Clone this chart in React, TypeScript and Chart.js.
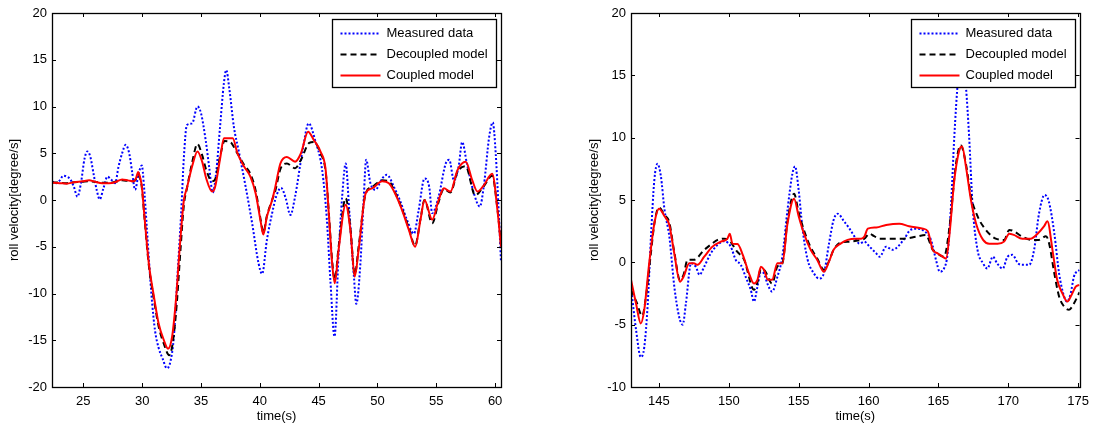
import React, { useEffect, useRef } from "react";
import { Chart, registerables } from "chart.js";

Chart.register(...registerables);

const FONT = "'Liberation Sans', Arial, Helvetica, sans-serif";

const seriesLabels = ["Measured data", "Decoupled model", "Coupled model"];
const xTitle = "time(s)";
const yTitle = "roll velocity[degree/s]";

// ---------- left panel ----------
const leftMeasuredT = [22.34, 22.7, 23.0, 23.3, 23.6, 23.9, 24.2, 24.5, 24.8, 25.1, 25.35, 25.6, 25.9, 26.15, 26.4, 26.7, 27.05, 27.35, 27.7, 28.0, 28.3, 28.6, 28.9, 29.15, 29.4, 29.7, 29.97, 30.15, 30.4, 30.6, 30.85, 31.1, 31.4, 31.75, 32.1, 32.4, 32.7, 33.0, 33.3, 33.55, 33.8, 34.25, 34.7, 35.0, 35.4, 35.7, 36.0, 36.3, 36.6, 36.95, 37.15, 37.4, 37.8, 38.2, 38.8, 39.35, 39.9, 40.2, 40.6, 41.05, 41.4, 41.8, 42.2, 42.6, 43.0, 43.6, 44.16, 44.7, 45.3, 45.7, 46.0, 46.35, 46.7, 47.0, 47.3, 47.6, 48.0, 48.2, 48.55, 48.84, 49.04, 49.4, 49.83, 50.4, 50.8, 51.4, 51.96, 52.5, 53.1, 53.5, 54.0, 54.4, 54.65, 55.2, 55.8, 56.1, 56.5, 56.9, 57.2, 57.6, 58.2, 58.7, 59.05, 59.5, 59.8, 60.05, 60.3, 60.5];
const leftMeasuredV = [2.0, 1.8, 2.1, 2.6, 2.5, 2.2, 1.4, 0.35, 1.8, 4.4, 5.2, 4.6, 2.6, 1.0, 0.07, 1.2, 2.5, 2.2, 1.8, 3.6, 5.0, 5.9, 5.0, 3.0, 1.1, 2.8, 3.7, 1.6, -3.0, -6.8, -11.0, -14.0, -15.8, -17.0, -18.0, -17.3, -14.6, -8.2, -1.8, 4.6, 8.0, 8.2, 10.0, 9.3, 6.4, 3.5, 0.8, 3.0, 7.5, 12.5, 13.9, 12.0, 7.8, 5.3, 1.4, -2.5, -6.8, -7.9, -4.3, -1.4, 0.4, 1.3, 0.2, -1.6, 0.36, 5.0, 8.2, 6.4, 3.2, -2.1, -8.6, -14.6, -5.7, 0.36, 3.9, -1.1, -8.2, -11.1, -6.8, 0.36, 4.3, 1.8, 1.1, 2.3, 2.7, 1.4, -0.2, -2.1, -3.6, -1.1, 2.3, 1.4, -1.4, 0.36, 3.9, 4.3, 2.1, 3.6, 6.2, 3.9, 0.7, -0.7, 1.6, 6.8, 8.3, 5.0, -1.1, -6.6];

const leftDecoupledT = [22.34, 23.0, 23.6, 24.2, 24.9, 25.5, 26.0, 26.6, 27.2, 27.7, 28.3, 28.8, 29.3, 29.5, 29.66, 29.85, 29.97, 30.2, 30.57, 31.0, 31.4, 31.85, 32.3, 32.6, 32.95, 33.25, 33.55, 33.8, 34.25, 34.7, 35.1, 35.45, 35.95, 36.2, 36.65, 37.0, 37.5, 38.0, 38.65, 39.2, 39.65, 40.1, 40.3, 40.6, 41.05, 41.32, 41.75, 42.3, 43.0, 43.5, 44.2, 44.6, 45.15, 45.6, 45.9, 46.15, 46.37, 46.7, 47.3, 47.7, 48.07, 48.4, 49.0, 49.55, 50.4, 50.97, 51.5, 52.1, 52.67, 53.2, 53.66, 54.0, 54.65, 55.2, 55.65, 56.2, 56.8, 57.5, 58.3, 59.05, 59.75, 60.2, 60.5];
const leftDecoupledV = [1.9, 1.85, 1.8, 1.9, 1.95, 2.0, 1.95, 1.85, 1.85, 1.95, 2.1, 2.05, 2.0, 2.3, 2.7, 2.2, 1.4, -1.9, -7.0, -10.6, -13.5, -15.4, -16.6, -15.3, -11.0, -5.5, -0.5, 1.2, 4.0, 6.0, 4.8, 3.2, 2.0, 2.2, 4.8, 6.3, 6.2, 5.2, 3.8, 2.8, 1.0, -2.3, -3.5, -1.7, 0.0, 1.0, 3.3, 3.9, 3.4, 4.3, 6.1, 6.2, 5.0, 3.0, -2.0, -6.5, -8.5, -5.0, 0.2, -3.0, -8.0, -5.0, 0.7, 1.4, 2.1, 2.0, 0.8, -1.0, -3.0, -4.9, -2.0, 0.0, -2.5, -0.2, 1.2, 0.8, 3.0, 3.6, 0.5, 1.5, 2.6, -1.0, -4.8];

const leftCoupledT = [22.34, 23.0, 23.6, 24.2, 24.9, 25.5, 26.0, 26.6, 27.2, 27.7, 28.3, 28.8, 29.3, 29.5, 29.66, 29.85, 29.97, 30.2, 30.57, 31.0, 31.4, 31.85, 32.2, 32.55, 32.9, 33.2, 33.55, 33.8, 34.25, 34.7, 35.1, 35.45, 35.95, 36.2, 36.65, 36.95, 37.7, 38.1, 38.65, 39.2, 39.65, 40.1, 40.3, 40.6, 41.05, 41.32, 41.75, 42.3, 43.0, 43.5, 44.1, 44.6, 45.15, 45.6, 45.9, 46.15, 46.37, 46.7, 47.3, 47.7, 48.07, 48.4, 49.0, 49.55, 50.4, 50.97, 51.5, 52.1, 52.67, 53.2, 53.66, 54.0, 54.65, 55.2, 55.65, 56.2, 56.8, 57.5, 58.06, 58.5, 59.05, 59.75, 60.2, 60.5];
const leftCoupledV = [1.85, 1.8, 1.75, 1.9, 2.0, 2.1, 1.95, 1.8, 1.8, 1.9, 2.2, 2.1, 2.0, 2.4, 3.0, 2.3, 1.5, -1.8, -6.8, -10.3, -13.2, -15.0, -15.9, -14.6, -10.3, -5.0, 0.0, 1.25, 3.6, 5.2, 4.1, 2.3, 0.9, 1.4, 4.6, 6.6, 6.6, 5.0, 3.6, 2.5, 0.7, -2.5, -3.7, -1.8, 0.0, 1.4, 3.9, 4.6, 4.1, 5.0, 7.3, 6.4, 5.2, 3.2, -2.1, -6.8, -8.9, -5.3, -0.5, -3.2, -8.2, -5.3, 0.7, 1.25, 2.0, 1.8, 0.7, -1.1, -3.2, -5.0, -2.1, 0.0, -2.1, 0.0, 1.25, 0.9, 3.2, 4.1, 2.1, 0.9, 1.6, 2.8, -1.1, -5.0];

const leftXMin = 22.34;
const leftXMax = 60.5;
const leftXTicks = [25, 30, 35, 40, 45, 50, 55, 60];
const leftYTicks = [-20, -15, -10, -5, 0, 5, 10, 15, 20];

// ---------- right panel ----------
const rightMeasuredT = [143.0, 143.36, 143.7, 143.95, 144.2, 144.43, 144.67, 144.9, 145.14, 145.4, 145.74, 146.1, 146.45, 146.7, 146.93, 147.3, 147.64, 147.9, 148.24, 148.7, 149.2, 149.67, 150.14, 150.5, 150.86, 151.2, 151.57, 151.8, 152.05, 152.3, 152.52, 152.76, 153.1, 153.48, 153.83, 154.2, 154.55, 154.74, 155.0, 155.26, 155.62, 156.1, 156.45, 156.8, 157.17, 157.5, 157.8, 158.24, 158.64, 159.0, 159.35, 159.7, 160.07, 160.55, 160.8, 161.26, 161.7, 162.1, 162.57, 163.0, 163.5, 164.0, 164.47, 164.83, 165.1, 165.4, 165.66, 165.9, 166.14, 166.4, 166.68, 166.97, 167.2, 167.45, 167.8, 168.2, 168.5, 168.9, 169.2, 169.6, 169.95, 170.3, 170.7, 171.0, 171.5, 171.85, 172.2, 172.6, 172.9, 173.3, 173.64, 174.0, 174.2, 174.47, 174.7, 175.1];
const rightMeasuredV = [-2.0, -5.4, -7.6, -6.8, -3.3, 2.1, 6.6, 7.9, 6.9, 4.2, 2.1, -1.95, -4.4, -5.0, -3.3, -0.08, -0.35, -1.0, -0.35, 0.7, 1.4, 1.7, 1.26, 0.19, -0.2, -1.15, -2.2, -3.15, -1.95, -0.75, -0.9, -1.7, -2.35, -1.15, 0.45, 4.2, 7.1, 7.7, 5.8, 2.86, 0.3, -0.9, -1.3, -0.9, 1.5, 3.4, 3.9, 3.3, 2.7, 2.06, 1.5, 1.66, 1.26, 0.72, 0.45, 1.26, 1.0, 1.26, 1.9, 2.6, 2.7, 2.5, 1.8, 0.19, -0.75, -0.5, 0.72, 4.5, 10.1, 14.6, 17.0, 14.1, 10.1, 4.5, 1.0, -0.08, -0.5, 0.45, -0.08, -0.5, 0.45, 0.6, -0.08, -0.2, -0.2, 1.0, 3.9, 5.4, 4.9, 2.3, -0.9, -2.75, -3.15, -2.5, -1.15, -0.6];

const rightDecoupledT = [143.0, 143.4, 143.8, 144.1, 144.4, 144.7, 145.0, 145.4, 145.74, 146.1, 146.5, 146.76, 147.05, 147.5, 148.24, 148.8, 149.2, 149.67, 150.0, 150.6, 151.1, 151.8, 152.05, 152.3, 152.6, 153.1, 153.5, 153.83, 154.2, 154.67, 155.0, 155.4, 155.86, 156.33, 156.8, 157.17, 157.5, 158.0, 158.64, 159.47, 159.7, 160.07, 160.4, 160.8, 161.7, 162.5, 163.4, 164.1, 164.6, 165.07, 165.4, 165.8, 166.26, 166.6, 166.97, 167.33, 167.8, 168.4, 169.1, 169.7, 170.07, 170.4, 171.0, 171.7, 172.2, 172.7, 172.93, 173.3, 173.64, 174.0, 174.35, 174.7, 175.1];
const rightDecoupledV = [-2.2, -3.2, -4.3, -2.5, 0.5, 3.3, 4.4, 3.8, 3.2, 0.8, -1.4, -1.0, 0.2, 0.2, 1.0, 1.5, 1.8, 1.9, 1.8, 0.85, 0.2, -2.2, -1.6, -0.5, -0.7, -1.7, -0.3, -0.1, 3.3, 5.5, 4.0, 2.5, 1.2, 0.3, -0.6, 0.1, 1.0, 1.6, 1.66, 1.8, 1.9, 2.3, 2.1, 1.9, 1.9, 1.9, 2.06, 2.2, 1.0, 0.6, 0.45, 2.86, 7.9, 9.4, 7.9, 5.3, 3.7, 2.6, 1.9, 1.8, 2.6, 2.5, 2.06, 1.8, 1.8, 2.1, 1.5, -0.9, -2.75, -3.55, -3.8, -3.3, -2.4];

const rightCoupledT = [143.0, 143.36, 143.7, 143.95, 144.3, 144.67, 145.0, 145.4, 145.74, 146.1, 146.5, 146.76, 147.17, 147.5, 147.76, 148.24, 148.83, 149.43, 149.9, 150.07, 150.26, 150.62, 151.0, 151.45, 151.8, 152.05, 152.3, 152.52, 152.8, 153.1, 153.48, 153.83, 154.2, 154.67, 155.0, 155.38, 155.86, 156.33, 156.8, 157.17, 157.5, 158.0, 158.5, 159.07, 159.47, 159.7, 159.95, 160.55, 161.26, 162.2, 162.9, 163.9, 164.24, 164.6, 164.95, 165.3, 165.55, 165.8, 166.14, 166.5, 166.7, 166.97, 167.33, 167.7, 168.2, 168.64, 169.24, 169.7, 170.07, 170.4, 171.0, 171.6, 172.1, 172.57, 172.8, 173.2, 173.5, 173.88, 174.24, 174.47, 174.83, 175.1];
const rightCoupledV = [-1.4, -3.3, -4.9, -3.8, -0.1, 3.1, 4.3, 3.7, 3.0, 0.7, -1.55, -1.15, -0.08, -0.08, -0.2, 0.45, 1.26, 1.66, 1.9, 2.3, 1.5, 1.47, 0.6, -0.9, -1.7, -1.4, -0.35, -0.6, -1.4, -1.4, -0.08, -0.08, 3.1, 5.1, 3.7, 2.3, 1.0, 0.19, -0.75, 0.05, 1.0, 1.5, 1.8, 1.9, 1.9, 2.06, 2.7, 2.8, 3.0, 3.1, 2.9, 2.7, 2.5, 1.0, 0.72, 0.45, 0.3, 2.3, 6.6, 9.0, 9.3, 7.7, 5.0, 3.1, 1.8, 1.5, 1.5, 1.66, 2.3, 2.2, 1.9, 1.9, 2.3, 2.9, 3.3, 0.72, -1.4, -2.5, -3.15, -2.75, -1.95, -1.8];

const rightXMin = 143;
const rightXMax = 175.1;
const rightXTicks = [145, 150, 155, 160, 165, 170, 175];
const rightYTicks = [-10, -5, 0, 5, 10, 15, 20];

const zip = (t: number[], v: number[]) => t.map((x, i) => ({ x, y: v[i] }));

const framePlugin = {
  id: "matlabFrame",
  afterDatasetsDraw(chart: any) {
    const { ctx, chartArea: a, scales } = chart;
    ctx.save();
    ctx.setLineDash([]);
    ctx.strokeStyle = "#000";
    ctx.lineWidth = 1;
    const L = 4;
    ctx.beginPath();
    for (const t of scales.x.ticks) {
      const px = Math.round(scales.x.getPixelForValue(t.value)) + 0.5;
      ctx.moveTo(px, a.bottom);
      ctx.lineTo(px, a.bottom - L);
      ctx.moveTo(px, a.top);
      ctx.lineTo(px, a.top + L);
    }
    for (const t of scales.y.ticks) {
      const py = Math.round(scales.y.getPixelForValue(t.value)) + 0.5;
      ctx.moveTo(a.left, py);
      ctx.lineTo(a.left + L, py);
      ctx.moveTo(a.right, py);
      ctx.lineTo(a.right - L, py);
    }
    ctx.stroke();
    ctx.lineWidth = 1.3;
    ctx.strokeRect(Math.round(a.left) + 0.5, Math.round(a.top) + 0.5, Math.round(a.right) - Math.round(a.left), Math.round(a.bottom) - Math.round(a.top));

    // legend box
    const w = 164;
    const h = 68;
    const bx = Math.round(a.right - 5 - w) + 0.5;
    const by = Math.round(a.top + 6) + 0.5;
    ctx.fillStyle = "#fff";
    ctx.fillRect(bx, by, w, h);
    ctx.lineWidth = 1.3;
    ctx.strokeRect(bx, by, w, h);
    ctx.font = "13px " + FONT;
    ctx.textBaseline = "middle";
    ctx.textAlign = "left";
    chart.data.datasets.forEach((ds: any, i: number) => {
      const yy = by + 14 + i * 21;
      ctx.beginPath();
      ctx.strokeStyle = ds.borderColor;
      ctx.lineWidth = ds.borderWidth;
      ctx.setLineDash(ds.borderDash || []);
      ctx.moveTo(bx + 8, yy);
      ctx.lineTo(bx + 48, yy);
      ctx.stroke();
      ctx.setLineDash([]);
      ctx.fillStyle = "#000";
      ctx.fillText(ds.label, bx + 54, yy);
    });
    ctx.restore();
  },
};

type Panel = {
  mT: number[]; mV: number[];
  dT: number[]; dV: number[];
  cT: number[]; cV: number[];
  xMin: number; xMax: number; xTicks: number[];
  yTicks: number[];
  yAxisWidth: number; padRight: number; yTitlePad: number;
};

function makeConfig(p: Panel): any {
  const font = { family: FONT, size: 13 };
  return {
    type: "line",
    data: {
      datasets: [
        { label: seriesLabels[0], data: zip(p.mT, p.mV), borderColor: "#0000ff", borderWidth: 2, borderDash: [2, 2], pointRadius: 0, fill: false, cubicInterpolationMode: "monotone", order: 2 },
        { label: seriesLabels[1], data: zip(p.dT, p.dV), borderColor: "#000000", borderWidth: 2, borderDash: [6, 4], pointRadius: 0, fill: false, cubicInterpolationMode: "monotone", order: 1 },
        { label: seriesLabels[2], data: zip(p.cT, p.cV), borderColor: "#ff0000", borderWidth: 2, pointRadius: 0, fill: false, cubicInterpolationMode: "monotone", order: 0 },
      ],
    },
    options: {
      animation: false,
      responsive: true,
      maintainAspectRatio: false,
      layout: { padding: { top: 13, right: p.padRight, left: 0, bottom: 0 } },
      plugins: { legend: { display: false }, tooltip: { enabled: false } },
      scales: {
        x: {
          type: "linear",
          min: p.xMin,
          max: p.xMax,
          afterBuildTicks: (s: any) => { s.ticks = p.xTicks.map((v) => ({ value: v })); },
          afterFit: (s: any) => { s.height = 43; },
          grid: { display: false, drawTicks: false },
          border: { display: false },
          ticks: { color: "#000", font, padding: 7, maxRotation: 0, autoSkip: false },
          title: { display: true, text: xTitle, color: "#000", font, padding: { top: 0, bottom: 6 } },
        },
        y: {
          type: "linear",
          min: p.yTicks[0],
          max: p.yTicks[p.yTicks.length - 1],
          afterBuildTicks: (s: any) => { s.ticks = p.yTicks.map((v) => ({ value: v })); },
          afterFit: (s: any) => { s.width = p.yAxisWidth; },
          grid: { display: false, drawTicks: false },
          border: { display: false },
          ticks: { color: "#000", font, padding: 5, autoSkip: false },
          title: { display: true, text: yTitle, color: "#000", font, padding: { top: p.yTitlePad, bottom: 0 } },
        },
      },
    },
    plugins: [framePlugin],
  };
}

function ChartPanel({ panel, left }: { panel: Panel; left: number }) {
  const ref = useRef<HTMLCanvasElement | null>(null);
  useEffect(() => {
    if (!ref.current) return;
    const chart = new Chart(ref.current, makeConfig(panel));
    return () => chart.destroy();
  }, [panel]);
  return (
    <div style={{ position: "absolute", left, top: 0, width: 548, height: 430 }}>
      <canvas ref={ref} />
    </div>
  );
}

const leftPanel: Panel = {
  mT: leftMeasuredT, mV: leftMeasuredV,
  dT: leftDecoupledT, dV: leftDecoupledV,
  cT: leftCoupledT, cV: leftCoupledV,
  xMin: leftXMin, xMax: leftXMax, xTicks: leftXTicks, yTicks: leftYTicks,
  yAxisWidth: 52, padRight: 47, yTitlePad: 7,
};

const rightPanel: Panel = {
  mT: rightMeasuredT, mV: rightMeasuredV,
  dT: rightDecoupledT, dV: rightDecoupledV,
  cT: rightCoupledT, cV: rightCoupledV,
  xMin: rightXMin, xMax: rightXMax, xTicks: rightXTicks, yTicks: rightYTicks,
  yAxisWidth: 83, padRight: 15.3, yTitlePad: 39,
};

export default function App() {
  return (
    <div style={{ position: "fixed", left: 0, top: 0, width: 1096, height: 430, background: "#fff" }}>
      <ChartPanel panel={leftPanel} left={0} />
      <ChartPanel panel={rightPanel} left={548} />
    </div>
  );
}
